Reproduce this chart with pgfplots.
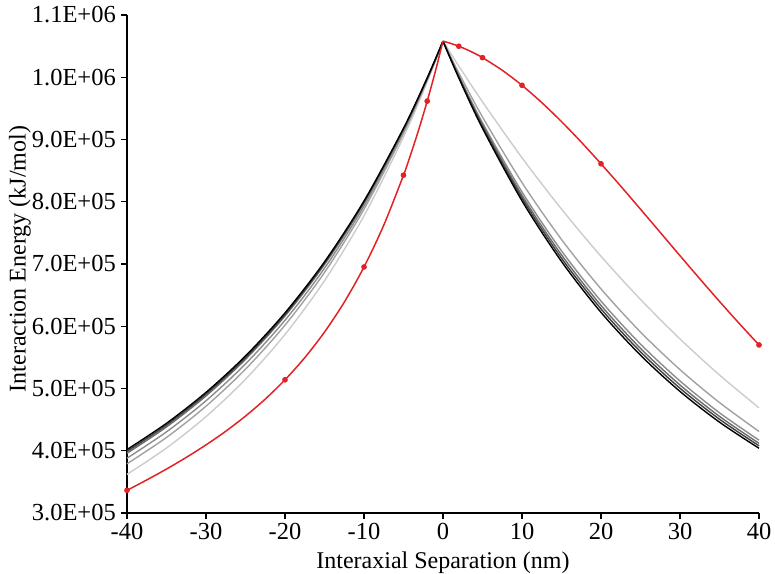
\documentclass[border=0pt]{standalone}
\usepackage{fontspec}
\setmainfont{Liberation Serif}
\usepackage{pgfplots}
\pgfplotsset{compat=1.18}
\definecolor{myred}{RGB}{226,34,38}
\definecolor{gA}{gray}{0.0}
\definecolor{gB}{gray}{0.25}
\definecolor{gC}{gray}{0.42}
\definecolor{gD}{gray}{0.55}
\definecolor{gE}{gray}{0.63}
\definecolor{gF}{gray}{0.80}
\begin{document}
\fontsize{24}{28}\selectfont
\begin{tikzpicture}
\useasboundingbox (-127pt,-60pt) rectangle (648pt,513pt);
\begin{axis}[
  scale only axis, width=632pt, height=498pt,
  at={(0,0)}, anchor=south west,
  xmin=-40, xmax=40, ymin=3e5, ymax=1.1e6,
  axis x line=bottom, axis y line=left,
  axis line style={line width=1.2pt,-},
  tick align=outside, major tick length=6pt,
  tick style={line width=1.2pt,black},
  xtick={-40,-30,-20,-10,0,10,20,30,40},
  xticklabels={-40,-30,-20,-10,0,10,20,30,40},
  ytick={3e5,4e5,5e5,6e5,7e5,8e5,9e5,1e6,1.1e6},
  yticklabels={3.0E+05,4.0E+05,5.0E+05,6.0E+05,7.0E+05,8.0E+05,9.0E+05,1.0E+06,1.1E+06},
  scaled y ticks=false,
  ticklabel style={font=\fontsize{24.5}{26}\selectfont},
  xticklabel style={yshift=-3pt, inner ysep=1pt},
  yticklabel style={xshift=3pt},
  label style={font=\fontsize{24}{28}\selectfont},
  xlabel={Interaxial Separation (nm)},
  ylabel={Interaction Energy (kJ/mol)},
  xlabel style={at={(axis description cs:0.5,-0.0990)},anchor=center, inner ysep=1pt},
  ylabel style={at={(axis description cs:-0.1693,0.51)},anchor=center},
  clip=false,
  every axis plot/.append style={line width=1.4pt},
]
% light to dark
\addplot[gF,smooth] coordinates {(-40,3.620e5)(-35,4.044e5)(-30,4.548e5)(-25,5.149e5)(-20,5.868e5)(-15,6.732e5)(-10,7.775e5)(-5,9.040e5)(-2,9.927e5)(0,1.058e6)};
\addplot[gF,smooth] coordinates {(0,1.058e6)(2,10.180e5)(5,9.605e5)(10,8.707e5)(15,7.882e5)(20,7.124e5)(25,6.431e5)(30,5.796e5)(35,5.217e5)(40,4.689e5)};
\addplot[gE,smooth] coordinates {(-40,3.790e5)(-35,4.214e5)(-30,4.716e5)(-25,5.310e5)(-20,6.018e5)(-15,6.864e5)(-10,7.879e5)(-5,9.101e5)(-2,9.954e5)(0,1.058e6)};
\addplot[gE,smooth] coordinates {(0,1.058e6)(2,10.071e5)(5,9.362e5)(10,8.308e5)(15,7.394e5)(20,6.600e5)(25,5.907e5)(30,5.303e5)(35,4.774e5)(40,4.310e5)};
\addplot[gD,smooth] coordinates {(-40,3.880e5)(-35,4.304e5)(-30,4.803e5)(-25,5.395e5)(-20,6.096e5)(-15,6.932e5)(-10,7.932e5)(-5,9.132e5)(-2,9.968e5)(0,1.058e6)};
\addplot[gD,smooth] coordinates {(0,1.058e6)(2,10.029e5)(5,9.269e5)(10,8.157e5)(15,7.211e5)(20,6.404e5)(25,5.714e5)(30,5.121e5)(35,4.610e5)(40,4.170e5)};
\addplot[gC,smooth] coordinates {(-40,3.960e5)(-35,4.383e5)(-30,4.881e5)(-25,5.469e5)(-20,6.165e5)(-15,6.992e5)(-10,7.978e5)(-5,9.160e5)(-2,9.980e5)(0,1.058e6)};
\addplot[gC,smooth] coordinates {(0,1.058e6)(2,10.014e5)(5,9.235e5)(10,8.102e5)(15,7.146e5)(20,6.335e5)(25,5.645e5)(30,5.056e5)(35,4.552e5)(40,4.120e5)};
\addplot[gB,smooth] coordinates {(-40,3.990e5)(-35,4.413e5)(-30,4.911e5)(-25,5.497e5)(-20,6.191e5)(-15,7.015e5)(-10,7.996e5)(-5,9.170e5)(-2,9.984e5)(0,1.058e6)};
\addplot[gB,smooth] coordinates {(0,1.058e6)(2,10.001e5)(5,9.208e5)(10,8.059e5)(15,7.093e5)(20,6.279e5)(25,5.590e5)(30,5.004e5)(35,4.506e5)(40,4.080e5)};
\addplot[gA,smooth] coordinates {(-40,4.019e5)(-35,4.441e5)(-30,4.938e5)(-25,5.523e5)(-20,6.215e5)(-15,7.035e5)(-10,8.012e5)(-5,9.180e5)(-2,9.989e5)(0,1.058e6)};
\addplot[gA,smooth] coordinates {(0,1.058e6)(2,9.989e5)(5,9.180e5)(10,8.015e5)(15,7.041e5)(20,6.223e5)(25,5.535e5)(30,4.953e5)(35,4.459e5)(40,4.040e5)};
% red
\addplot[myred,smooth,line width=1.5pt] coordinates {(-40,3.364e5)(-37.5,3.531e5)(-35,3.706e5)(-32.5,3.893e5)(-30,4.094e5)(-27.5,4.313e5)(-25,4.557e5)(-22.5,4.830e5)(-20,5.140e5)(-17.5,5.495e5)(-15,5.906e5)(-12.5,6.386e5)(-10,6.952e5)(-7.5,7.623e5)(-5,8.427e5)(-4,8.794e5)(-3,9.189e5)(-2,9.616e5)(-1,10.079e5)(0,1.058e6)};
\addplot[myred,smooth,line width=1.5pt] coordinates {(0,1.058e6)(1,10.543e5)(2,10.498e5)(3,10.445e5)(4,10.384e5)(5,10.315e5)(7.5,10.112e5)(10,9.870e5)(12.5,9.593e5)(15,9.287e5)(17.5,8.958e5)(20,8.610e5)(22.5,8.250e5)(25,7.880e5)(27.5,7.507e5)(30,7.133e5)(32.5,6.763e5)(35,6.399e5)(37.5,6.044e5)(40,5.700e5)};
\addplot[myred,only marks,mark=*,mark size=2.1pt] coordinates {(-40,3.364e5)(-20,5.140e5)(-10,6.952e5)(-5,8.427e5)(-2,9.616e5)(2,10.498e5)(5,10.315e5)(10,9.870e5)(20,8.610e5)(40,5.700e5)};
\end{axis}
\end{tikzpicture}
\end{document}
